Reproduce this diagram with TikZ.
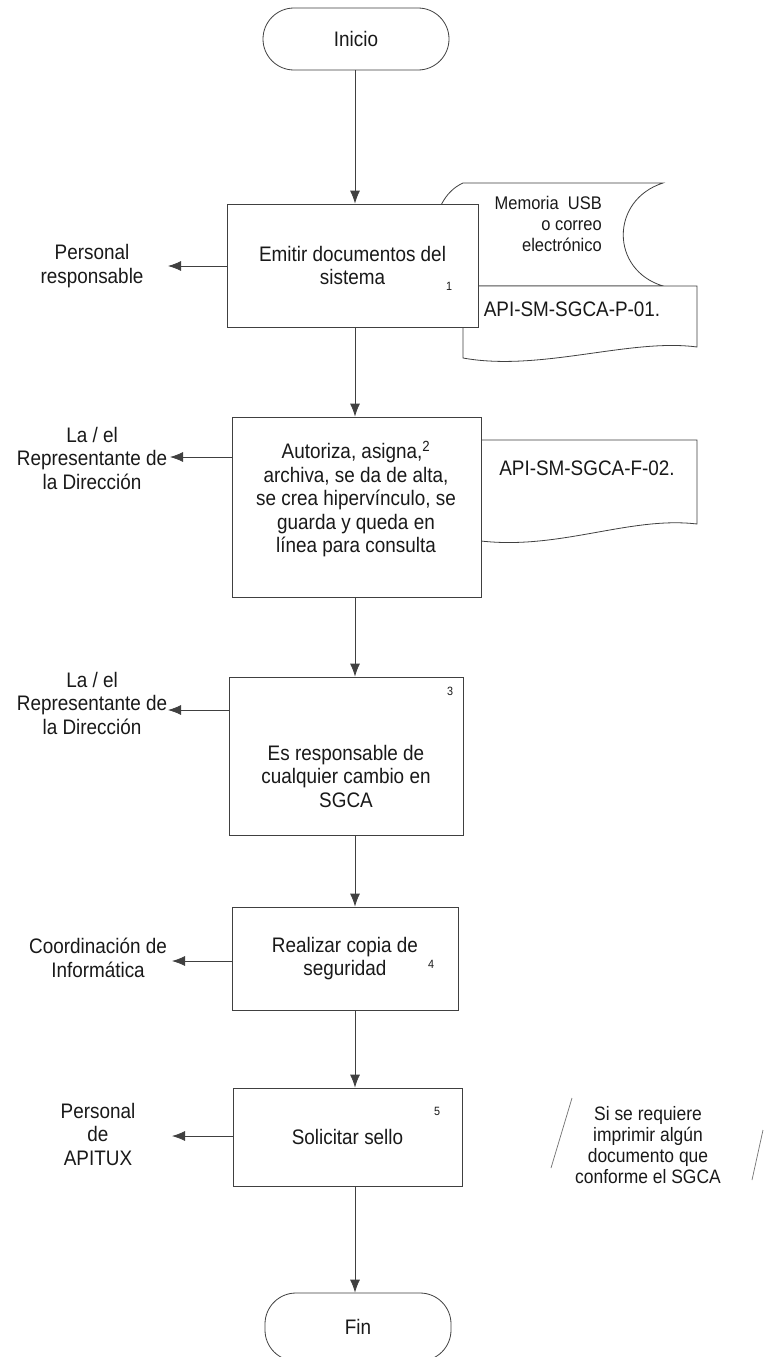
\documentclass[tikz,border=0pt]{standalone}
\usepackage{fontspec}
\setmainfont[FakeStretch=0.9]{Liberation Sans}
\usetikzlibrary{arrows.meta}
\begin{document}
\begin{tikzpicture}[x=1pt,y=-1pt,
  ln/.style={draw=black!75, line width=0.8pt},
  arr/.style={ln, -{Latex[length=13pt,width=10pt]}},
  box/.style={ln, fill=white, rectangle, inner sep=0pt},
  term/.style={box, rounded corners=31pt, minimum width=186pt},
  txt/.style={font=\fontsize{21}{23.5}\selectfont, text=black!90, align=center, inner sep=0pt},
  small/.style={font=\fontsize{18.3}{21}\selectfont, text=black!90, inner sep=0pt},
  num/.style={font=\fontsize{12}{14}\selectfont, text=black!90, inner sep=0pt}]
\useasboundingbox (0,0) rectangle (765,1357);
\fill[white] (0,0) rectangle (765,1357);
\coordinate (mx) at (355,0);

% terminators
\node[term, minimum height=62pt, txt] (ini) at (356,39) {Inicio};
\node[term, minimum height=68pt, txt] (fin) at (358,1327) {Fin};

% stored data and document 1
\draw[ln, fill=white] (463,183) -- (663,183) .. controls (610,200) and (610,270) .. (663,286)
   -- (463,286) .. controls (425,270) and (425,200) .. (463,183) -- cycle;
\node[small, align=right, anchor=east] (usb) at (602,224) {Memoria~ USB\\o correo\\electrónico};
\draw[ln, fill=white] (463,286) -- (697,286) -- (697,347) .. controls (630,338) and (540,372) .. (463,358) -- cycle;
\node[txt] (d1) at (572,309) {API-SM-SGCA-P-01.};

% document 2
\draw[ln, fill=white] (481,440) -- (697,440) -- (697,524) .. controls (630,516) and (560,550) .. (481,541) -- cycle;
\node[txt] (d2) at (587,468) {API-SM-SGCA-F-02.};

% process boxes
\node[box, txt, minimum width=251pt, minimum height=123pt] (b1) at (352.5,265.5) {Emitir documentos del\\sistema};
\node[num] (n1) at (449,286) {1};

\node[box, txt, minimum width=249pt, minimum height=180pt] (b2) at (356.5,507) {};
\node[txt] (t2) at (356,499) {Autoriza, asigna,\textsuperscript{2}\\archiva, se da de alta,\\se crea hipervínculo, se\\guarda y queda en\\línea para consulta};

\node[box, minimum width=234pt, minimum height=158pt] (b3) at (346,756) {};
\node[txt] (t3) at (346,776) {Es responsable de\\cualquier cambio en\\SGCA};
\node[num] (n3) at (450,691) {3};

\node[box, txt, minimum width=226pt, minimum height=103pt] (b4) at (345,958.5) {Realizar copia de\\seguridad};
\node[num] (n4) at (431,964) {4};

\node[box, txt, minimum width=229pt, minimum height=98pt] (b5) at (347.5,1137) {Solicitar sello};
\node[num] (n5) at (437,1111) {5};

% side labels
\node[txt] (l1) at (92,266) {Personal\\responsable};
\node[txt] (l2) at (92,458) {La / el\\Representante de\\la Dirección};
\node[txt] (l3) at (92,703) {La / el\\Representante de\\la Dirección};
\node[txt] (l4) at (98,958) {Coordinación de\\Informática};
\node[txt] (l5) at (98,1134) {Personal\\de\\APITUX};

\coordinate (a1) at (168,266);
\coordinate (a2) at (170,457);
\coordinate (a3) at (168,710);
\coordinate (a4) at (172,961);
\coordinate (a5) at (172,1136);
\draw[arr] (b1.west |- a1) -- (a1);
\draw[arr] (b2.west |- a2) -- (a2);
\draw[arr] (b3.west |- a3) -- (a3);
\draw[arr] (b4.west |- a4) -- (a4);
\draw[arr] (b5.west |- a5) -- (a5);

% main flow
\draw[arr] (ini.south -| mx) -- (b1.north -| mx);
\draw[arr] (b1.south -| mx) -- (b2.north -| mx);
\draw[arr] (b2.south -| mx) -- (b3.north -| mx);
\draw[arr] (b3.south -| mx) -- (b4.north -| mx);
\draw[arr] (b4.south -| mx) -- (b5.north -| mx);
\draw[arr] (b5.south -| mx) -- (fin.north -| mx);

% note (parallelogram, sides only)
\node[font=\fontsize{19.4}{21}\selectfont, text=black!90, align=center, inner sep=0pt] (note) at (648,1145)
  {Si se requiere\\imprimir algún\\documento que\\conforme el SGCA};
\draw[draw=black!55, line width=0.7pt] (572,1098) -- (551,1168);
\draw[draw=black!55, line width=0.7pt] (763,1130) -- (752,1180);
\end{tikzpicture}
\end{document}
